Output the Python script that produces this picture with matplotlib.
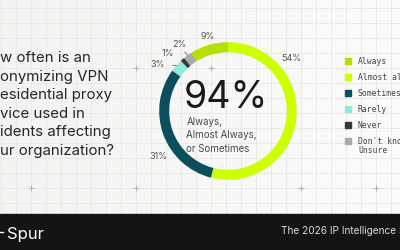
import numpy as np
import matplotlib.pyplot as plt
from matplotlib.patches import Rectangle
from matplotlib.colors import LinearSegmentedColormap

# dados do grafico
categorias = ["Always", "Almost always", "Sometimes", "Rarely", "Never", "Don't know/\nUnsure"]
valores = [9, 54, 31, 3, 1, 2]
rotulos = ["9%", "54%", "31%", "3%", "1%", "2%"]
cores = ["#b3e000", "#ccff00", "#0b4f5d", "#8ee9d9", "#383838", "#a9a9a9"]
destaque = "94%"
destaque_sub = ["Always,", "Almost Always,", "or Sometimes"]
pergunta = ["w often is an", "onymizing VPN", "esidential proxy",
            "vice used in", "idents affecting", "ur organization?"]
rodape = "The 2026 IP Intelligence Survey"

# posicao dos rotulos (em raios do donut)
pos_rot = [(-0.29, 1.09), (0.92, 0.77), (-1.01, -0.66), (-1.03, 0.67), (-0.88, 0.84), (-0.71, 0.965)]
com_linha = [False, False, False, True, True, True]

W, H = 400, 250
fig = plt.figure(figsize=(4, 2.5), dpi=100)
bg = fig.add_axes([0, 0, 1, 1])
bg.set_xlim(0, W)
bg.set_ylim(H, 0)
bg.axis('off')

# fundo com leve gradiente
grad = np.linspace(0, 1, 200)[None, :]
bg.imshow(grad, cmap=LinearSegmentedColormap.from_list("g", ["#f3f3f1", "#fbfbfb"]),
          extent=[0, W, 214, 0], aspect='auto', zorder=0)

# grade
for x in np.arange(0.5, W, 15):
    bg.plot([x, x], [0, 214], color="#e9e9e9", lw=0.7, zorder=1)
for y in np.arange(8, 214, 15):
    bg.plot([0, W], [y, y], color="#e9e9e9", lw=0.7, zorder=1)
for px, py in [(135.5, 68), (210.5, 68), (30.5, 188), (135.5, 188), (300.5, 188), (375.5, 188)]:
    bg.plot(px, py, marker='+', ms=5, mew=0.6, color="#a8a8a8", zorder=2)

# faixa de baixo
bg.add_patch(Rectangle((0, 214), W, 36, color="#141414", zorder=3))
bg.plot([0, 2.5], [232, 232], color="white", lw=1.0, zorder=4)
bg.text(6.5, 238.5, "Spur", color="white", fontsize=12, family="Inter", zorder=4)
bg.text(281, 234.5, rodape, color="#d8d8d8", fontsize=7.3, family="Inter", zorder=4)

# pergunta
for i, linha in enumerate(pergunta):
    bg.text(-0.5, 62 + 18.6 * i, linha, fontsize=10.8, family="Inter", color="#262626", zorder=4)

# texto central
bg.text(184, 108, destaque, fontsize=27, family="Inter", color="#1a1a1a", zorder=4)
for i, linha in enumerate(destaque_sub):
    bg.text(186.5, 125 + 13.3 * i, linha, fontsize=7, family="Inter", color="#4a4a4a", zorder=4)

# legenda
for i, (cat, cor) in enumerate(zip(categorias, cores)):
    y = 61 + 16 * i
    bg.add_patch(Rectangle((345, y - 3), 6, 6, color=cor, zorder=4))
    for j, parte in enumerate(cat.split("\n")):
        bg.text(358, y + 9.5 * j, parte, fontsize=5.8, family="DejaVu Sans Mono",
                color="#444444", va="center", zorder=4)

# donut
cx, cy, r = 228, 111, 86
ax = fig.add_axes([(cx - r) / W, (H - cy - r) / H, 2 * r / W, 2 * r / H])
ax.set_xlim(-1, 1)
ax.set_ylim(-1, 1)
ax.axis('off')
ax.patch.set_alpha(0)
wedges, _ = ax.pie(valores, colors=cores, radius=1, startangle=90 + valores[0] * 3.6,
                   counterclock=False, wedgeprops=dict(width=12.5 / r, linewidth=0))
for w, rot, (lx, ly), linha in zip(wedges, rotulos, pos_rot, com_linha):
    ang = np.deg2rad((w.theta1 + w.theta2) / 2)
    if linha:
        ax.annotate(rot, xy=(np.cos(ang), np.sin(ang)), xytext=(lx, ly),
                    fontsize=6.5, family="Inter", color="#555555", ha="center", va="center",
                    arrowprops=dict(arrowstyle='-', color="#666666", lw=0.6, shrinkA=4, shrinkB=0))
    else:
        ax.text(lx, ly, rot, fontsize=6.5, family="Inter", color="#555555", ha="center", va="center")

fig.savefig("out.png", dpi=100)
